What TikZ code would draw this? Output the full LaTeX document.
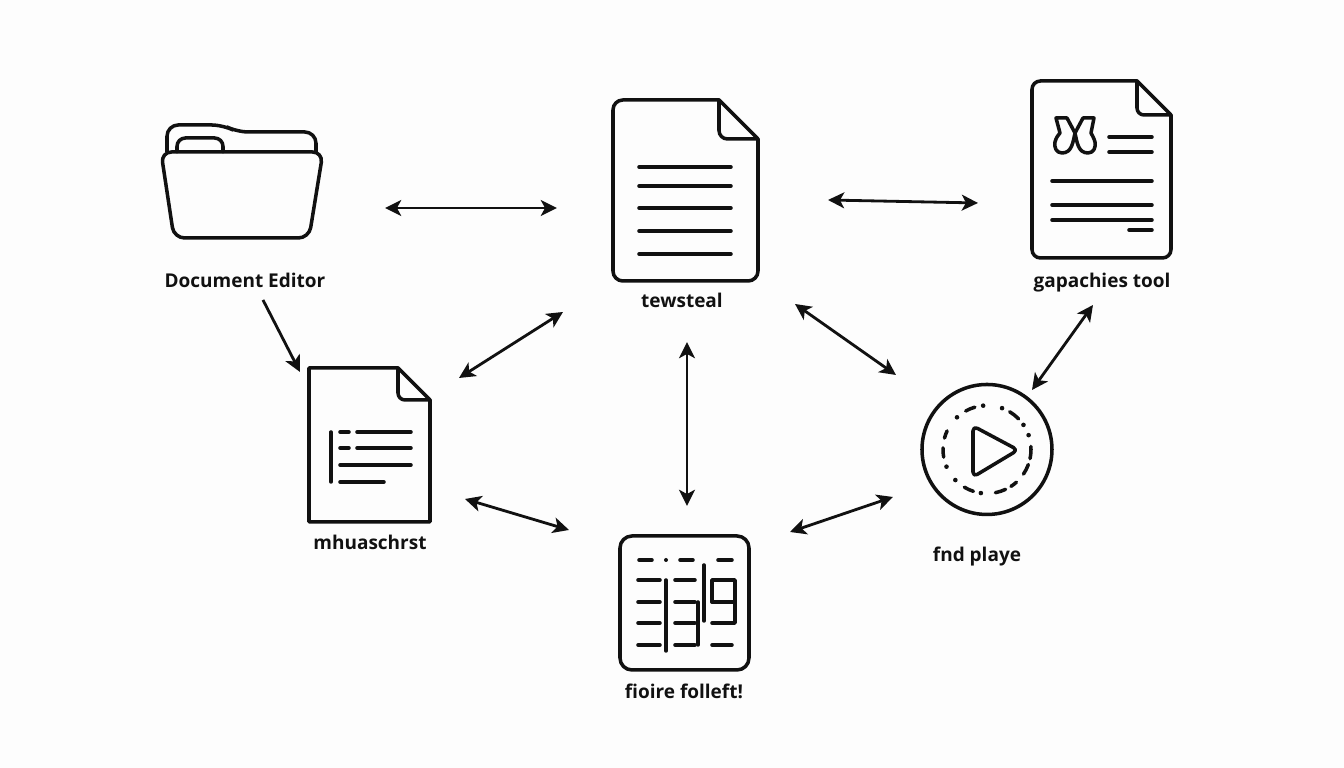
\documentclass[tikz,border=0pt]{standalone}
\usepackage{fontspec}
\setmainfont{Open Sans}
\usetikzlibrary{arrows.meta, positioning, calc}
\definecolor{inkblack}{HTML}{111111}
\definecolor{paper}{HTML}{FDFDFD}
\tikzset{
    iconline/.style={draw=inkblack, line width=1pt, line cap=round, line join=round},
    twoway/.style={draw=inkblack, line width=0.8pt, {Stealth[length=4.6pt,width=4.5pt,inset=1.2pt]}-{Stealth[length=4.6pt,width=4.5pt,inset=1.2pt]}},
    oneway/.style={draw=inkblack, line width=0.8pt, -{Stealth[length=4.6pt,width=4.5pt,inset=1.2pt]}},
    iconlabel/.style={text=inkblack, font=\fontsize{5.4}{7}\selectfont\bfseries, inner sep=0pt}
}
\begin{document}
\begin{tikzpicture}[x=0.01cm,y=-0.01cm]
\fill[paper] (0,0) rectangle (1344,768);
\useasboundingbox (0,0) rectangle (1344,768);
% Folder
\draw[iconline,rounded corners=3.2pt] (167,152) -- (167,125) -- (223,125) -- (237,132) -- (316,132) -- (316,152);
\draw[iconline,rounded corners=2.4pt] (177,152) -- (177,138) -- (223,138) -- (223,152);
\draw[iconline,rounded corners=3pt] (161,152) -- (323,152) -- (309,238) -- (174,238) -- cycle;
% Main document
\draw[iconline,rounded corners=2.8pt] (719,100) -- (613,100) -- (613,281) -- (758,281) -- (758,139);
\draw[iconline] (719,100) -- (758,139);
\draw[iconline,rounded corners=2.4pt] (719,100) -- (719,139) -- (758,139);
\foreach \y in {167,186,208,231,254}
    \draw[iconline] (639,\y) -- (731,\y);
% Graphics document
\draw[iconline,rounded corners=2.4pt] (1137,81) -- (1032,81) -- (1032,258) -- (1171,258) -- (1171,115);
\draw[iconline] (1137,81) -- (1171,115);
\draw[iconline,rounded corners=2pt] (1137,81) -- (1137,115) -- (1171,115);
\foreach \y in {137,152}
    \draw[iconline] (1109,\y) -- (1152,\y);
\foreach \y in {181,205,220}
    \draw[iconline] (1052,\y) -- (1152,\y);
\draw[iconline] (1129,230) -- (1152,230);
\draw[iconline] (1056,118) -- (1067,118) -- (1075,133) .. controls (1073,142) and (1072,153) .. (1062,153) .. controls (1056,153) and (1054,147) .. (1055,142) .. controls (1056,138) and (1058,135) .. (1060,133) -- cycle;
\draw[iconline] (1094,118) -- (1083,118) -- (1075,133) .. controls (1077,142) and (1078,153) .. (1088,153) .. controls (1094,153) and (1096,147) .. (1095,142) .. controls (1094,138) and (1092,135) .. (1091,133) -- cycle;
% Manuscript
\draw[iconline] (398,368) -- (309,368) -- (309,522) -- (430,522) -- (430,400) -- cycle;
\draw[iconline,rounded corners=2pt] (398,368) -- (398,400) -- (430,400);
\draw[iconline] (331,432) -- (331,482);
\foreach \y in {432,448} {
    \draw[iconline] (340,\y) -- (349,\y);
    \draw[iconline] (357,\y) -- (411,\y);
}
\draw[iconline] (340,465) -- (411,465);
\draw[iconline] (340,482) -- (384,482);
% Calendar
\draw[iconline,rounded corners=3.4pt] (620,536) rectangle (749,670);
\foreach \xa/\xb in {639/652,680/693,718/732}
    \draw[iconline] (\xa,560) -- (\xb,560);
\fill[inkblack] (666,560) circle (2);
\foreach \y in {580,602,623,645} {
    \draw[iconline] (638,\y) -- (660,\y);
    \draw[iconline] (675,\y) -- (695,\y);
}
\draw[iconline] (666,580) -- (666,651);
\draw[iconline] (698,602) -- (698,645);
\draw[iconline] (704,565) -- (704,621);
\draw[iconline] (712,602) -- (712,580) -- (735,580) -- (735,623) -- (712,623);
\draw[iconline] (712,602) -- (735,602);
\draw[iconline] (712,645) -- (732,645);
% Player
\draw[iconline] (987,449.5) circle (65);
\foreach \a/\b in {106/119,155/165,178/190,239/252,281/295,303/312,326/340,348/364,44/59}
    \draw[iconline] ({987+44*cos(\a)},{449.5-44*sin(\a)}) arc[start angle=-\a, end angle=-\b, radius=44];
\foreach \a in {95,133,203,224,262,19,34,70}
    \fill[inkblack] ({987+44*cos(\a)},{449.5-44*sin(\a)}) circle (2.3);
\draw[iconline,rounded corners=1.4pt] (973,426) -- (1018,450) -- (973,477) -- cycle;
% Labels
\node[iconlabel] (folderlabel) at (245,280) {Document Editor};
\node[iconlabel] (mainlabel) at (682,300) {tewsteal};
\node[iconlabel] (graphlabel) at (1102,283) {gapachies tool};
\node[iconlabel] (manulabel) at (370,542) {mhuaschrst};
\node[iconlabel] (callabel) at (684,691) {fioire folleft!};
\node[iconlabel] (playlabel) at (977,557) {fnd playe};
% Connector ends
\coordinate (folderE) at (385,208);
\coordinate (mainW) at (557,208);
\coordinate (mainE) at (828,200);
\coordinate (graphW) at (978,203);
\coordinate (folderS) at (263,300);
\coordinate (manuN) at (300,372);
\coordinate (manuNE) at (459,378);
\coordinate (mainSW) at (563,312);
\coordinate (mainS) at (687,342);
\coordinate (calN) at (687,506);
\coordinate (mainSE) at (795,304);
\coordinate (playNW) at (896,375);
\coordinate (graphS) at (1093,305);
\coordinate (playNE) at (1032,390);
\coordinate (manuSE) at (465,499);
\coordinate (calNW) at (569,530);
\coordinate (calNE) at (790,532);
\coordinate (playSW) at (893,497);
% Connectors
\foreach \a/\b in {folderE/mainW,mainE/graphW,manuNE/mainSW,mainS/calN,mainSE/playNW,graphS/playNE,manuSE/calNW,calNE/playSW}
    \draw[twoway] (\a) -- (\b);
\draw[oneway] (folderS) -- (manuN);
\end{tikzpicture}
\end{document}
